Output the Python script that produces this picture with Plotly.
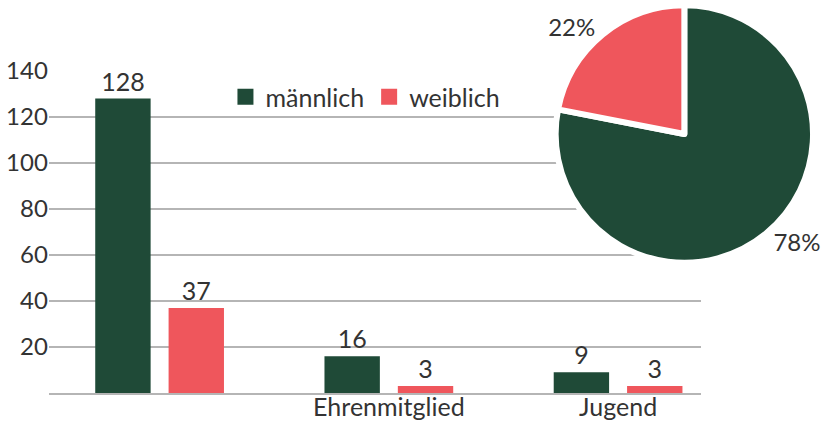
import plotly.graph_objects as go

categories = ["", "Ehrenmitglied", "Jugend"]
series_names = ["männlich", "weiblich"]
male = [128, 16, 9]
female = [37, 3, 3]
y_ticks = [20, 40, 60, 80, 100, 120, 140]

GREEN = "#1f4a37"
RED = "#ef565c"
TEXT = "#333333"
FONT = "Lato"
W, H = 825, 426

x_pos = list(range(len(categories)))

fig = go.Figure()
for name, vals, col in [(series_names[0], male, GREEN), (series_names[1], female, RED)]:
    fig.add_trace(go.Bar(
        x=x_pos, y=vals, name=name, marker=dict(color=col, line=dict(width=0)),
        text=[str(v) for v in vals], textposition="outside",
        textfont=dict(size=25, color=TEXT, family=FONT),
        cliponaxis=False, showlegend=False,
    ))
    # legend proxies with big square symbols
    fig.add_trace(go.Scatter(
        x=[None], y=[None], mode="markers", name=name,
        marker=dict(symbol="square", size=20, color=col), showlegend=True,
    ))

totals = [sum(male), sum(female)]
fig.add_trace(go.Pie(
    values=totals, labels=series_names, sort=False, direction="clockwise",
    rotation=0, marker=dict(colors=[GREEN, RED], line=dict(color="white", width=6)),
    textposition="outside", texttemplate="%{percent:.0%}",
    textfont=dict(size=24, color=TEXT, family=FONT),
    domain=dict(x=[(686 - 129) / W, (686 + 129) / W], y=[1 - 263 / H, 1 - 5 / H]),
    showlegend=False, hoverinfo="skip",
))

cx, cy, rr = 686, 134, 134
fig.add_shape(type="circle", xref="paper", yref="paper",
              x0=(cx - rr) / W, x1=(cx + rr) / W, y0=1 - (cy + rr) / H, y1=1 - (cy - rr) / H,
              fillcolor="white", line=dict(width=0), layer="between")

fig.update_layout(
    width=W, height=H, margin=dict(l=0, r=0, t=0, b=0),
    paper_bgcolor="white", plot_bgcolor="white",
    font=dict(family=FONT, color=TEXT, size=24),
    barmode="group", bargap=0.36, bargroupgap=0.245,
    xaxis=dict(domain=[49 / W, 703 / W], range=[-0.483, 2.363],
               tickvals=x_pos, ticktext=categories, showgrid=False, zeroline=False,
               showline=True, linecolor="#b5b5b5", linewidth=1.5, ticks="", ticklen=0,
               ticklabelstandoff=-9,
               tickfont=dict(size=25, color=TEXT, family=FONT), automargin=False, fixedrange=True),
    yaxis=dict(domain=[1 - 393 / H, 1 - 71 / H], range=[0, 140],
               tickvals=y_ticks, showgrid=True, gridcolor="#b5b5b5", gridwidth=1.5,
               zeroline=False, showline=False, ticks="",
               tickfont=dict(size=24, color=TEXT, family=FONT), automargin=False, fixedrange=True),
    legend=dict(orientation="h", x=226 / W, y=1 - 97 / H, xanchor="left", yanchor="middle",
                font=dict(size=25, color=TEXT, family=FONT), bgcolor="rgba(0,0,0,0)",
                itemclick=False, itemdoubleclick=False),
    showlegend=True,
)

fig.write_html("out.html", config={"displayModeBar": False})
